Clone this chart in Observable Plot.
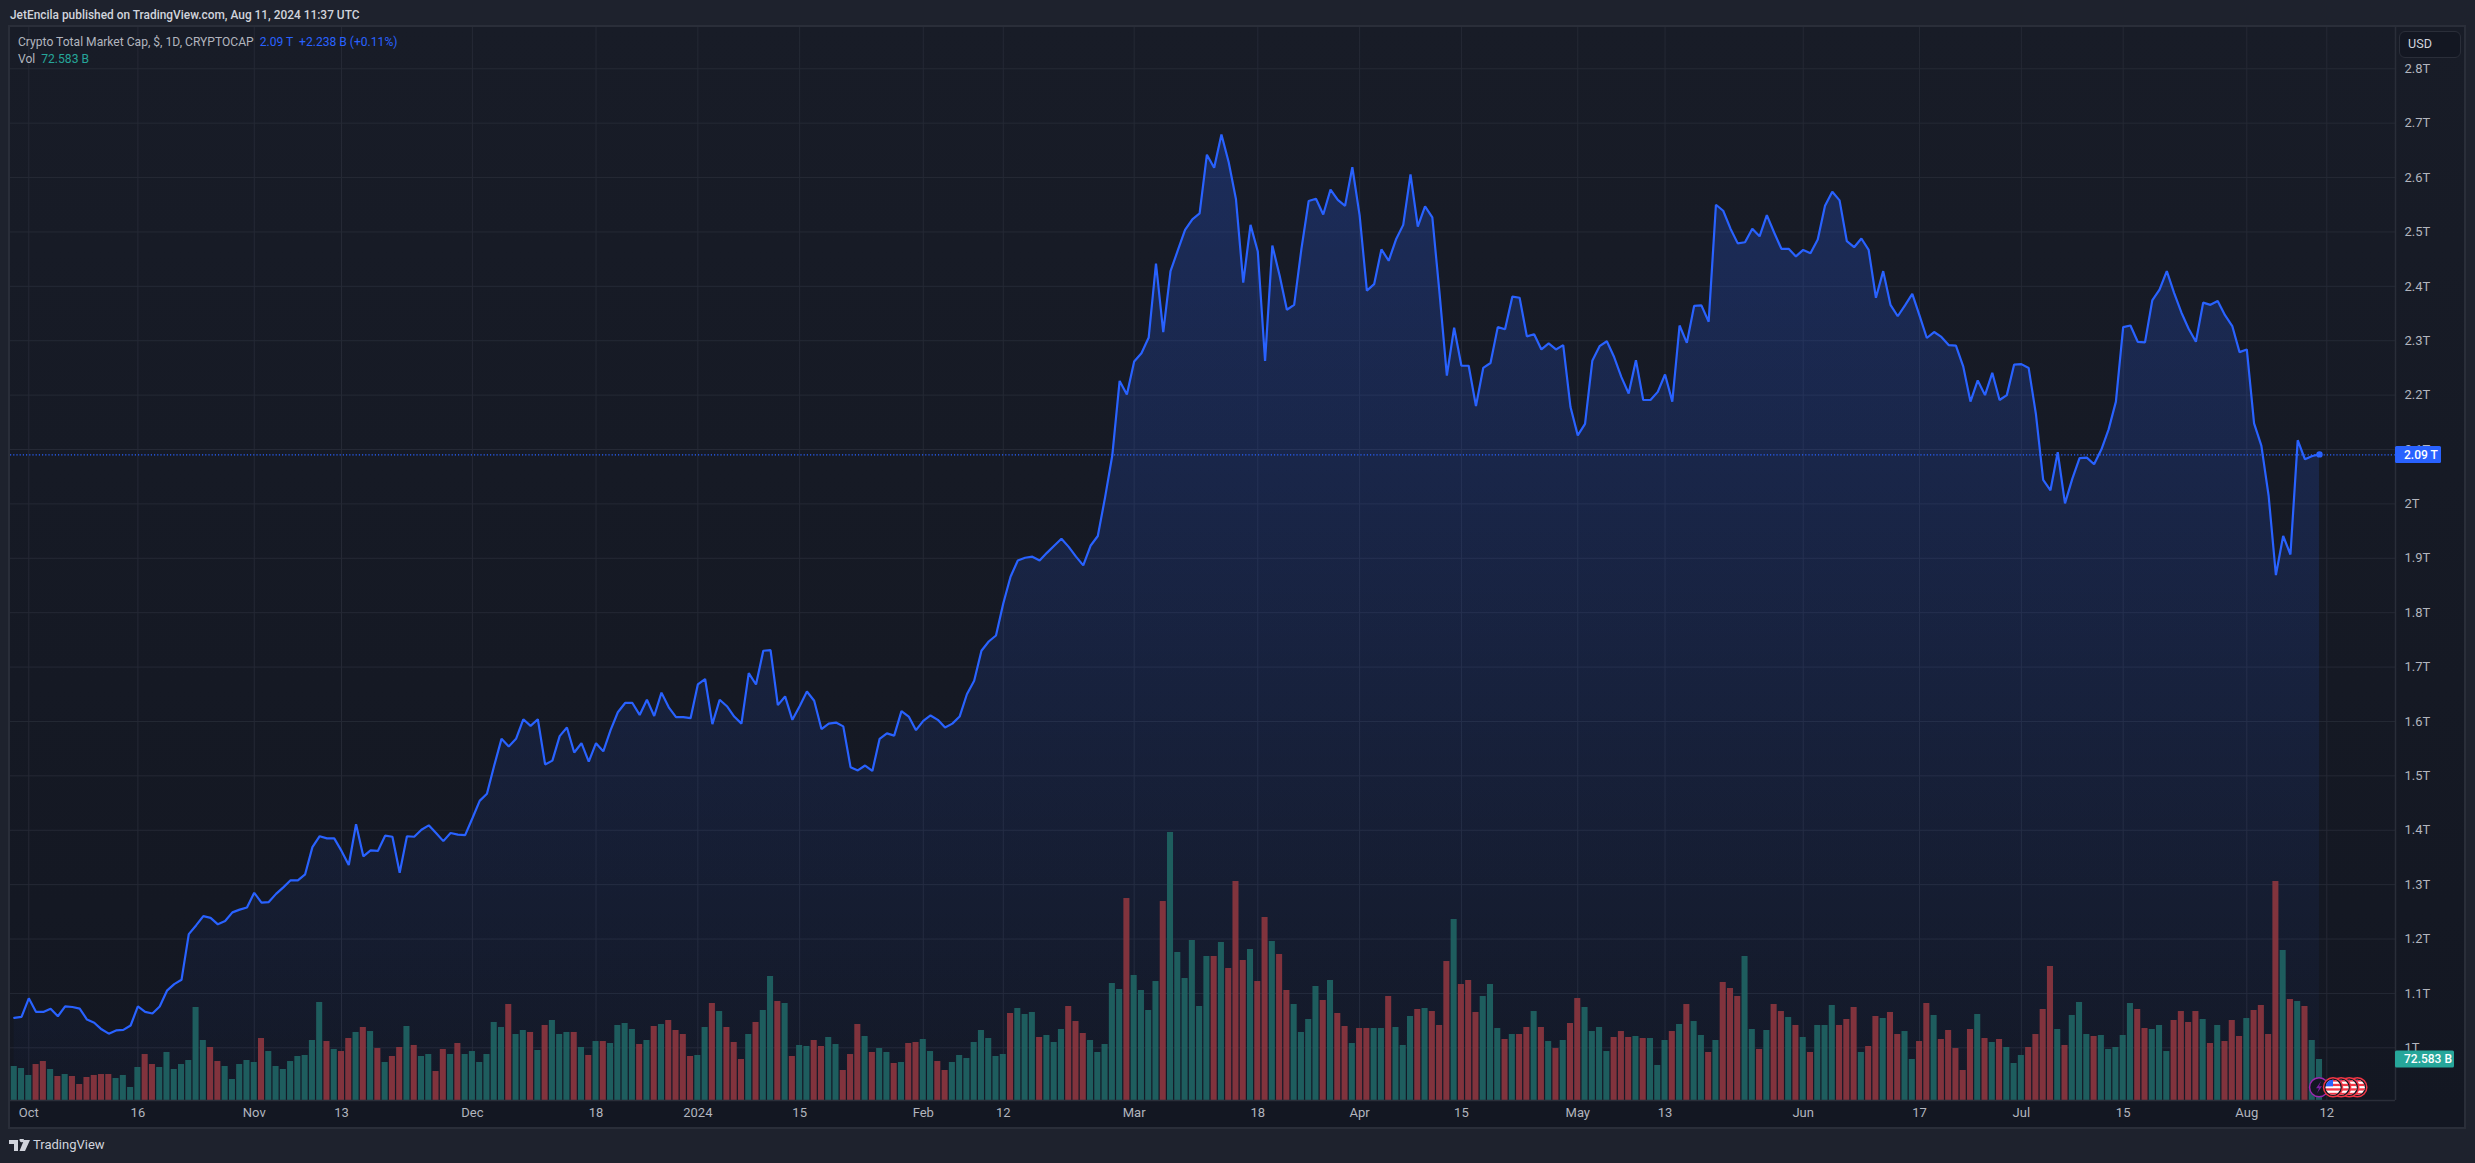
<!DOCTYPE html>
<html>
<head>
<meta charset="utf-8">
<script src="https://cdn.jsdelivr.net/npm/d3@7"></script>
<script src="https://cdn.jsdelivr.net/npm/@observablehq/plot@0.6"></script>
<style>
html,body{margin:0;padding:0;background:#1e222d;width:2475px;height:1163px;overflow:hidden}
body{font-family:Roboto,sans-serif;position:relative}
#frame{position:absolute;left:9px;top:26px;width:2454px;height:1100px;border:2px solid #2a2e39;background:linear-gradient(180deg,#181c27 0%,#131722 100%);box-sizing:content-box;margin:-1px 0 0 -1px}
#xbar{position:absolute;left:10px;top:1100px;width:2454px;height:27px;background:#131722}
#chart{position:absolute;left:0;top:0}
.t{position:absolute;white-space:pre;font-size:12.1px;line-height:16px}
#usd{position:absolute;left:2399px;top:31px;width:62px;height:27px;box-sizing:border-box;border:1.5px solid #2a2e39;border-radius:6px;background:#131722;color:#d1d4dc;font-size:12.6px;line-height:24px;padding-left:8px}
</style>
</head>
<body>
<div id="frame"></div>
<div id="xbar"></div>
<div id="plot"></div>
<div class="t" style="left:10px;top:7px;color:#d1d4dc;font-weight:500;font-size:11.9px">JetEncila published on TradingView.com, Aug 11, 2024 11:37 UTC</div>
<div class="t" style="left:18px;top:34px;color:#b2b5be">Crypto Total Market Cap, $, 1D, CRYPTOCAP  <span style="color:#2962ff">2.09 T  +2.238 B (+0.11%)</span></div>
<div class="t" style="left:18px;top:51px;color:#b2b5be">Vol  <span style="color:#26a69a">72.583 B</span></div>
<div id="usd">USD</div>
<svg style="position:absolute;left:9px;top:1139px" width="22" height="13" viewBox="0 0 22 13"><path fill="#d1d4dc" d="M0 1h9v11H5V5H0zM10.5 1a2.2 2.2 0 1 1 0 .01zM15 1h6l-5 11h-5.5z"/></svg>
<div class="t" style="left:33px;top:1137px;color:#d1d4dc;font-size:13px">TradingView</div>
<script>
// Daily closes, Crypto Total Market Cap, trillions USD, from 29 Sep 2023 to 11 Aug 2024
const closeT = [
1.055,1.057,1.091,1.066,1.066,1.072,1.058,1.076,1.075,1.072,
1.052,1.046,1.034,1.026,1.032,1.033,1.041,1.076,1.066,1.063,
1.076,1.105,1.117,1.125,1.209,1.225,1.242,1.239,1.227,1.233,
1.249,1.254,1.258,1.285,1.267,1.268,1.283,1.295,1.308,1.308,
1.319,1.369,1.389,1.385,1.385,1.362,1.336,1.411,1.352,1.363,
1.362,1.390,1.388,1.322,1.389,1.388,1.401,1.409,1.395,1.380,
1.395,1.392,1.391,1.422,1.454,1.467,1.519,1.568,1.554,1.568,
1.604,1.592,1.604,1.521,1.528,1.573,1.589,1.543,1.560,1.526,
1.560,1.545,1.584,1.617,1.634,1.634,1.612,1.640,1.610,1.653,
1.626,1.608,1.608,1.606,1.668,1.678,1.595,1.640,1.628,1.609,
1.596,1.689,1.668,1.730,1.731,1.630,1.646,1.603,1.628,1.655,
1.638,1.586,1.596,1.598,1.591,1.516,1.510,1.519,1.509,1.568,
1.578,1.574,1.619,1.609,1.584,1.601,1.611,1.603,1.589,1.596,
1.609,1.650,1.675,1.730,1.747,1.758,1.817,1.866,1.896,1.901,
1.903,1.896,1.910,1.923,1.936,1.921,1.903,1.887,1.923,1.941,
2.012,2.090,2.226,2.201,2.262,2.277,2.306,2.442,2.316,2.428,
2.466,2.504,2.523,2.534,2.642,2.618,2.679,2.628,2.560,2.407,
2.513,2.464,2.263,2.475,2.420,2.357,2.366,2.469,2.557,2.561,
2.532,2.578,2.559,2.548,2.619,2.531,2.392,2.404,2.468,2.447,
2.486,2.513,2.606,2.510,2.547,2.527,2.386,2.236,2.324,2.254,
2.254,2.180,2.250,2.259,2.325,2.321,2.381,2.379,2.308,2.312,
2.284,2.295,2.284,2.292,2.178,2.126,2.147,2.263,2.290,2.299,
2.270,2.233,2.203,2.264,2.191,2.191,2.206,2.238,2.188,2.328,
2.296,2.364,2.365,2.335,2.550,2.539,2.506,2.479,2.481,2.506,
2.492,2.531,2.499,2.469,2.469,2.455,2.467,2.461,2.486,2.548,
2.574,2.558,2.483,2.472,2.488,2.467,2.379,2.428,2.366,2.345,
2.365,2.386,2.346,2.305,2.316,2.307,2.292,2.291,2.253,2.188,
2.227,2.200,2.241,2.191,2.200,2.256,2.257,2.250,2.165,2.044,
2.025,2.095,2.001,2.046,2.084,2.085,2.073,2.100,2.137,2.188,
2.325,2.328,2.298,2.297,2.374,2.394,2.428,2.388,2.352,2.322,
2.298,2.370,2.366,2.373,2.347,2.327,2.279,2.284,2.148,2.107,
2.015,1.869,1.941,1.907,2.117,2.082,2.088,2.091];

// Daily volume, billions USD
const volumeB = [
60.2,56.6,44.3,63.7,69.0,54.9,42.5,46.0,42.5,28.3,
40.7,44.3,46.0,46.0,38.9,44.3,23.0,58.4,81.4,63.7,
58.4,85.0,54.9,63.7,70.8,164.6,106.2,93.8,69.0,60.2,
37.2,63.7,70.8,67.3,109.7,86.7,60.2,54.9,69.0,77.9,
79.7,106.2,173.5,104.4,90.3,86.7,109.7,120.4,129.2,122.1,
92.0,67.3,77.9,93.8,131.0,97.4,77.9,81.4,51.3,90.3,
81.4,100.9,81.4,86.7,67.3,81.4,138.1,129.2,169.9,116.8,
123.9,120.4,88.5,132.8,141.6,116.8,120.4,120.4,93.8,79.7,
104.4,104.4,100.9,132.8,136.3,125.7,99.1,106.2,131.0,134.5,
141.6,123.9,116.8,77.9,79.7,129.2,171.7,157.5,129.2,102.7,
72.6,116.8,138.1,159.3,219.5,175.2,171.7,77.9,97.4,95.6,
106.2,95.6,111.5,99.1,53.1,81.4,134.5,113.3,85.0,92.0,
85.0,65.5,67.3,100.9,102.7,108.0,86.7,69.0,53.1,67.3,
79.7,74.3,102.7,123.9,109.7,77.9,81.4,154.0,162.8,152.2,
155.8,111.5,115.1,102.7,125.7,166.4,139.8,118.6,106.2,85.0,
99.1,207.1,196.5,357.5,221.3,194.7,159.3,210.6,352.2,474.4,
262.0,215.9,283.2,166.4,254.9,254.9,279.7,233.6,387.6,247.8,
267.3,210.6,323.9,281.4,258.4,194.7,169.9,120.4,143.4,201.8,
177.0,212.4,154.0,131.0,100.9,127.4,127.4,127.4,127.4,184.1,
129.2,97.4,148.7,161.1,162.8,157.5,132.8,246.0,320.4,205.3,
212.4,155.8,184.1,205.3,127.4,108.0,116.8,116.8,129.2,157.5,
129.2,104.4,92.0,106.2,136.3,180.5,164.6,122.1,129.2,86.7,
111.5,122.1,111.5,113.3,109.7,109.7,62.0,106.2,122.1,134.5,
169.9,139.8,115.1,85.0,106.2,208.9,198.2,184.1,254.9,125.7,
90.3,123.9,169.9,157.5,146.9,132.8,111.5,85.0,132.8,132.8,
168.2,132.8,143.4,164.6,85.0,95.6,148.7,145.1,155.8,116.8,
122.1,72.6,104.4,171.7,150.5,108.0,123.9,92.0,53.1,125.7,
152.2,109.7,102.7,108.0,93.8,65.5,79.7,93.8,116.8,161.1,
237.2,125.7,97.4,150.5,173.5,116.8,113.3,115.1,90.3,93.8,
115.1,171.7,161.1,127.4,125.7,132.8,86.7,141.6,157.5,138.1,
157.5,143.4,100.9,132.8,104.4,141.6,113.3,145.1,159.3,168.2,
116.8,387.6,265.5,178.8,175.2,166.4,106.2,72.6];

// G = up-day bar, R = down-day bar
const volumeDirection = (
"GGGRRGRGRR"+"RRRRGGGGRR"+"GGGGGGGRRG"+"GGGGRGGGGG"+"GGGRGRRGRG"+
"RGRRGRGGRR"+"GRGGGGGGRG"+"GRGRGGGRGR"+"GRGGGGRGRG"+"RRRRGGRGRR"+
"RGRGGRGRGG"+"RRGGRRRGRG"+"GRGRRGGRRG"+"GGGGGGGRGG"+"GRGGGRRRGG"+
"GGGRGGGGRG"+"GGGGGRGRRR"+"GRRGRRGGGG"+"RGRRGRRGGR"+"GGGRGRRRGR"+
"RRGGGRGRRG"+"RGRGRRGGGG"+"RRRGRGGGRG"+"RGGRGRRRGG"+"RGRRGRGRGG"+
"GRRRGRRGRR"+"GGRRGRRRRR"+"GRGRGGGRRR"+"RGRGGGRGGG"+"GGRRGGGRRR"+
"RGRGRRRGRR"+"RRGRGRGG").split("");

const startDate = "2023-09-29";
const priceTicks = [1,1.1,1.2,1.3,1.4,1.5,1.6,1.7,1.8,1.9,2,2.1,2.2,2.3,2.4,2.5,2.6,2.7,2.8];
const timeTickDates = ["2023-10-01","2023-10-16","2023-11-01","2023-11-13","2023-12-01","2023-12-18","2024-01-01","2024-01-15","2024-02-01","2024-02-12","2024-03-01","2024-03-18","2024-04-01","2024-04-15","2024-05-01","2024-05-13","2024-06-01","2024-06-17","2024-07-01","2024-07-15","2024-08-01","2024-08-12"];
const timeTickLabels = ["Oct","16","Nov","13","Dec","18","2024","15","Feb","12","Mar","18","Apr","15","May","13","Jun","17","Jul","15","Aug","12"];
const lastClose = 2.09;
const lastVolumeLabel = "72.583 B";
const lastCloseLabel = "2.09 T";

const dayMs = 86400000;
const start = new Date(startDate + "T00:00:00Z");
const rows = closeT.map((c, i) => ({
  date: new Date(+start + i * dayMs), close: c, vol: volumeB[i], dir: volumeDirection[i]
}));
const tickDates = timeTickDates.map(d => new Date(d + "T00:00:00Z"));
const tickLabel = new Map(tickDates.map((d, i) => [+d, timeTickLabels[i]]));

// scale frame
const W = 2475, H = 1163, mL = 10, mR = 80, mT = 27, mB = 63;
const dOct1 = +new Date("2023-10-01T00:00:00Z");
const pxPerDay = (2326.3 - 28.3) / 316;
const xDomain = [new Date(dOct1 - (28.3 - mL) / pxPerDay * dayMs), new Date(dOct1 + (W - mR - 28.3) / pxPerDay * dayMs)];
const pxPerT = 543.9;
const yBottom = 1 + (1047.3 - (H - mB)) / pxPerT;
const yTop = 1 + (1047.3 - mT) / pxPerT;
const tPerB = (1 / 1.77) / pxPerT; // volume pane share of the price axis
const barHalf = 0.415 * dayMs;

const gridColor = "#252935";
const gradient = () => {
  const defs = d3.create("svg:defs");
  const g = defs.append("linearGradient").attr("id", "areaFill").attr("x1", 0).attr("x2", 0).attr("y1", 0).attr("y2", 1);
  g.append("stop").attr("offset", "0%").attr("stop-color", "#2962ff").attr("stop-opacity", 0.24);
  g.append("stop").attr("offset", "100%").attr("stop-color", "#2962ff").attr("stop-opacity", 0.02);
  return defs.node();
};
const lastRow = rows[rows.length - 1];
const tags = (index, {y}) => {
  const g = d3.create("svg:g").attr("font-family", "Roboto,sans-serif").attr("font-size", 12).attr("text-anchor", "start");
  const yP = y(lastClose);
  const yV = y(yBottom + lastRow.vol * tPerB);
  g.append("rect").attr("x", W - mR).attr("y", yP - 8.5).attr("width", 46).attr("height", 17).attr("rx", 1.5).attr("fill", "#2962ff");
  g.append("text").attr("x", W - mR + 9).attr("y", yP + 4.5).attr("fill", "#fff").attr("font-weight", 500).text(lastCloseLabel);
  g.append("rect").attr("x", W - mR).attr("y", yV - 8.5).attr("width", 59).attr("height", 17).attr("rx", 1.5).attr("fill", "#26a69a");
  g.append("text").attr("x", W - mR + 9).attr("y", yV + 4.5).attr("fill", "#fff").attr("font-weight", 500).text(lastVolumeLabel);
  return g.node();
};
const events = (index, {x}) => {
  const g = d3.create("svg:g");
  const cy = 1087.3, base = x(lastRow.date);
  const defs = g.append("defs");
  defs.append("clipPath").attr("id", "flagClip").append("circle").attr("r", 7.5);
  g.append("circle").attr("cx", base).attr("cy", cy).attr("r", 9.5).attr("fill", "#131722").attr("stroke", "#9c27b0").attr("stroke-width", 1.5);
  g.append("path").attr("transform", `translate(${base},${cy})`).attr("d", "M2 -6L-3 1H0L-2 6L3 -1H0z").attr("fill", "#7b1fa2");
  [3, 2, 1, 0].forEach(k => {
    const f = g.append("g").attr("transform", `translate(${base + 14 + k * 8.1},${cy})`);
    f.append("circle").attr("r", 9.5).attr("fill", "#131722").attr("stroke", "#f23645").attr("stroke-width", 1.5);
    const c = f.append("g").attr("clip-path", "url(#flagClip)");
    c.append("rect").attr("x", -8).attr("y", -8).attr("width", 16).attr("height", 16).attr("fill", "#fff");
    [-8, -3.5, 1, 5.5].forEach(s => c.append("rect").attr("x", -8).attr("y", s).attr("width", 16).attr("height", 2.3).attr("fill", "#f23645"));
    c.append("rect").attr("x", -8).attr("y", -8).attr("width", 8).attr("height", 7).attr("fill", "#2962ff");
  });
  return g.node();
};

const chart = Plot.plot({
  width: W, height: H,
  marginLeft: mL, marginRight: mR, marginTop: mT, marginBottom: mB,
  style: {background: "transparent", fontFamily: "Roboto,sans-serif", fontSize: "13px", color: "#b2b5be"},
  x: {type: "utc", domain: xDomain, label: null},
  y: {type: "linear", domain: [yBottom, yTop], label: null},
  marks: [
    gradient,
    Plot.gridX(tickDates, {stroke: gridColor, strokeOpacity: 1, strokeWidth: 1}),
    Plot.gridY(priceTicks, {stroke: gridColor, strokeOpacity: 1, strokeWidth: 1}),
    Plot.areaY(rows, {x: "date", y1: () => yBottom, y2: "close", fill: "url(#areaFill)"}),
    Plot.rect(rows, {
      x1: d => new Date(+d.date - barHalf), x2: d => new Date(+d.date + barHalf),
      y1: () => yBottom, y2: d => yBottom + d.vol * tPerB,
      fill: d => d.dir === "G" ? "#1f6060" : "#85353e", fillOpacity: 0.97
    }),
    Plot.ruleY([lastClose], {stroke: "#2962ff", strokeWidth: 1.2, strokeDasharray: "1.2,2"}),
    Plot.line(rows, {x: "date", y: "close", stroke: "#2962ff", strokeWidth: 2.2, strokeLinejoin: "miter"}),
    Plot.dot([lastRow], {x: "date", y: "close", r: 3.2, fill: "#2962ff"}),
    Plot.ruleX([xDomain[1]], {stroke: "#2a2e39", strokeWidth: 1.5, y1: yBottom, y2: yTop}),
    Plot.ruleY([yBottom], {stroke: "#2a2e39", strokeWidth: 1.5}),
    Plot.axisX({ticks: tickDates, tickFormat: d => tickLabel.get(+d), tickSize: 0, tickPadding: 7, label: null, fill: "#b2b5be", fontSize: 13}),
    Plot.axisY({anchor: "right", ticks: priceTicks, tickFormat: d => d + "T", tickSize: 0, tickPadding: 9, label: null, fill: "#b2b5be", fontSize: 13, textAnchor: "start"}),
    events,
    tags
  ]
});
chart.id = "chart";
chart.style.position = "absolute";
chart.style.left = "0";
chart.style.top = "0";
document.getElementById("plot").appendChild(chart);
</script>
</body>
</html>
